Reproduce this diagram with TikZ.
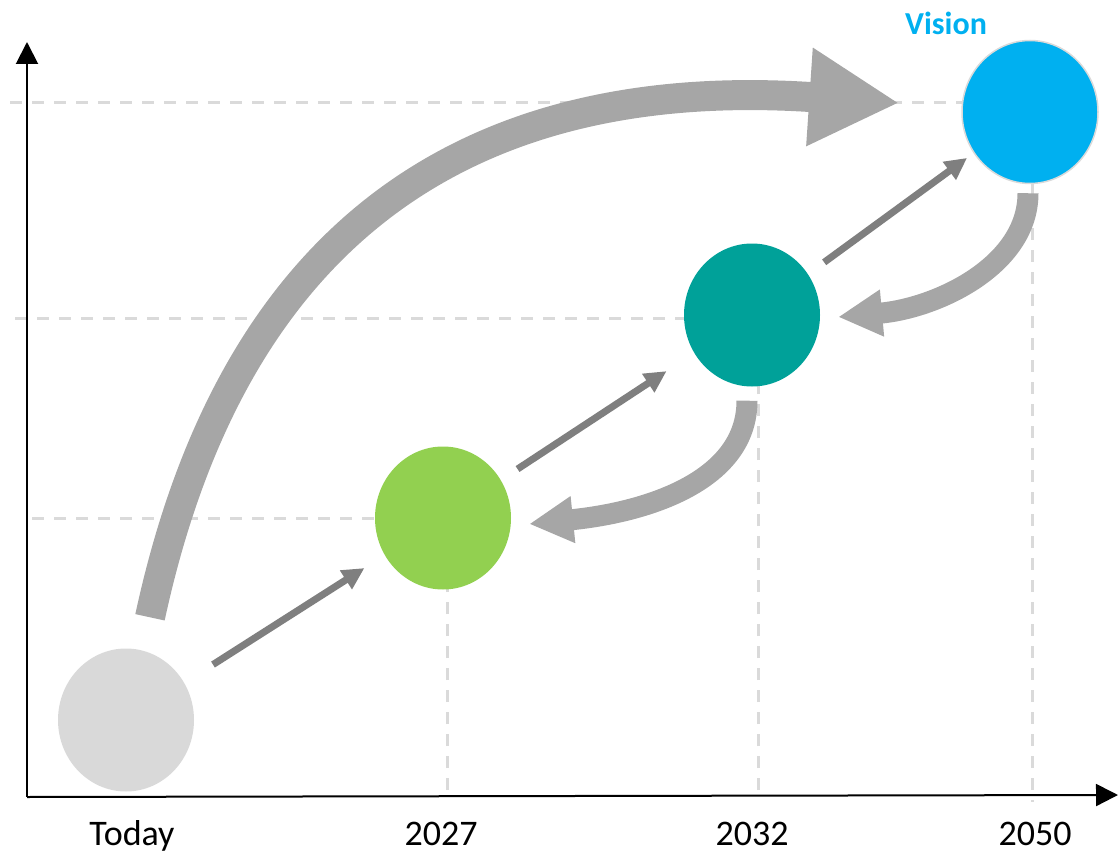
\documentclass[tikz,border=0pt]{standalone}
\usepackage{fontspec}
\setmainfont{Carlito}
\usetikzlibrary{arrows.meta, shapes.geometric, backgrounds}
\definecolor{todaygray}{HTML}{D9D9D9}
\definecolor{midgreen}{HTML}{92D050}
\definecolor{teal2032}{HTML}{00A199}
\definecolor{visionblue}{HTML}{00B0F0}
\definecolor{guidegray}{HTML}{DADADA}
\definecolor{stepgray}{HTML}{7F7F7F}
\definecolor{loopgray}{HTML}{A6A6A6}

\begin{document}
\begin{tikzpicture}[x=1pt, y=-1pt,
	milestone/.style={ellipse, minimum width=136pt, minimum height=143pt, inner sep=0pt},
	guide/.style={draw=guidegray, line width=3pt, dash pattern=on 12pt off 10pt},
	axisline/.style={draw=black, line width=2pt, -{Triangle[length=22pt,width=22pt]}},
	steparrow/.style={draw=stepgray, line width=7pt, -{Triangle[length=22pt,width=21pt]}},
	backarrow/.style={draw=loopgray, line width=21pt, -{Triangle[length=44pt,width=44pt]}},
	bigarrow/.style={draw=loopgray, line width=30pt, -{Triangle[length=90pt,width=92pt]}},
	yearlabel/.style={font=\fontsize{36}{42}\selectfont}]

	\useasboundingbox (0,0) rectangle (1120,856);

	\node[milestone, fill=todaygray] (today) at (126,720) {};
	\node[milestone, fill=midgreen] (y2027) at (443,518) {};
	\node[milestone, fill=teal2032] (y2032) at (752,315) {};
	\node[milestone, fill=visionblue, draw=guidegray, line width=1.5pt] (vision) at (1030,112) {};

	\begin{pgfonlayer}{background}
		\draw[guide] (10,103) -- (10,103 -| vision.center);
		\draw[guide] (15,318) -- (15,318 -| y2032.center);
		\draw[guide] (32,518) -- (y2027.center);
		\draw[guide] (447,790) -- (447,790 |- y2027.center);
		\draw[guide] (758,790) -- (758,790 |- y2032.center);
	\end{pgfonlayer}

	\coordinate (origin) at (27,797);
	\draw[axisline] (origin) -- (27,42);
	\draw[axisline] (origin) -- (1118,795);
	\draw[guide] (1032,184) -- (1032,802);

	\draw[steparrow, shorten <=34pt, shorten >=24pt] (today) -- (y2027);
	\draw[steparrow, shorten <=20pt, shorten >=33pt] (y2027) -- (y2032);
	\draw[steparrow, shorten <=20pt, shorten >=8pt] (y2032) -- (vision);

	\draw[backarrow] ([shift={(-5,14)}]y2032.south) .. controls (747,480) and (649,512) .. ([shift={(18,6)}]y2027.east);
	\draw[backarrow] ([shift={(-2,9)}]vision.south) .. controls (1028,265) and (938,308) .. ([shift={(18,2)}]y2032.east);

	\draw[bigarrow] ([shift={(24,-31)}]today.north) .. controls (212,330) and (380,68) .. ([shift={(-62,-9)}]vision.west);

	\node[yearlabel] (lbltoday) at (132,836) {Today};
	\node[yearlabel] (lbl2027) at (441,834) {2027};
	\node[yearlabel] (lbl2032) at (752,834) {2032};
	\node[yearlabel] (lbl2050) at (1035,834) {2050};
	\node[font=\fontsize{32}{38}\selectfont\bfseries, text=visionblue] (lblvision) at (946,23) {Vision};

\end{tikzpicture}
\end{document}
